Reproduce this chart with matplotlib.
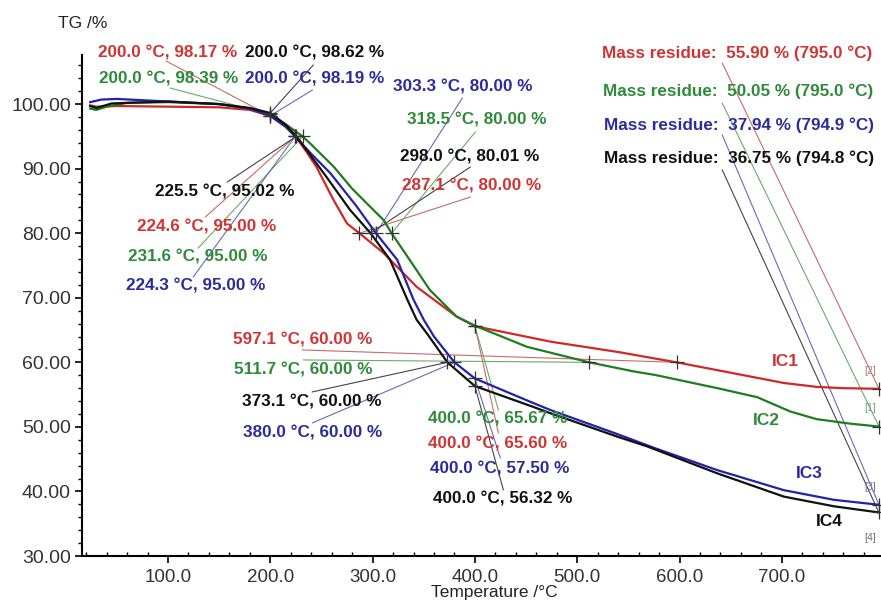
import numpy as np
import matplotlib.pyplot as plt
from matplotlib.ticker import MultipleLocator, FormatStrFormatter

plt.rcParams['font.family'] = ['Liberation Sans', 'DejaVu Sans']

# TG curves: temperature (°C) and mass (%)
t_ic1 = [24, 30, 50, 100, 150, 180, 200, 215, 224.6, 235, 245, 262, 275, 287.1, 311, 343,
         382, 400, 474, 540, 597.1, 653, 702, 734, 760, 795]
m_ic1 = [99.8, 99.6, 99.7, 99.6, 99.5, 99.1, 98.17, 96.5, 95.0, 92.7, 90.3, 85.1, 81.5, 80.0,
         76.9, 71.7, 67.1, 65.6, 63.2, 61.6, 60.0, 58.3, 56.8, 56.2, 56.0, 55.9]

t_ic2 = [24, 30, 40, 60, 100, 150, 180, 200, 215, 231.6, 239, 262, 280, 297, 311, 318.5,
         334, 356, 382, 400, 451, 511.7, 555, 576, 637, 676, 708, 734, 767, 795]
m_ic2 = [99.3, 99.1, 99.6, 100.2, 100.3, 100.0, 99.3, 98.39, 96.9, 95.0, 93.9, 90.3, 86.9,
         84.2, 82.0, 80.0, 76.4, 71.2, 67.1, 65.67, 62.4, 60.0, 58.6, 58.05, 56.0, 54.6,
         52.4, 51.2, 50.5, 50.05]

t_ic3 = [24, 35, 50, 100, 150, 180, 200, 215, 224.3, 240, 258.7, 284.7, 303.3, 324, 340, 350,
         360, 380, 400, 457, 474, 539, 576, 637, 702, 751, 794.9]
m_ic3 = [100.3, 100.7, 100.8, 100.4, 100.0, 99.3, 98.19, 96.5, 95.0, 92.3, 89.3, 84.1, 80.0,
         75.9, 69.7, 66.6, 64.0, 60.0, 57.5, 53.7, 52.6, 48.9, 46.7, 43.3, 40.2, 38.7, 37.94]

t_ic4 = [24, 30, 45, 100, 150, 180, 200, 215, 225.5, 255, 278, 298.0, 317, 334, 343, 353,
         373.1, 400, 457, 474, 539, 568, 637, 702, 751, 794.8]
m_ic4 = [99.7, 99.4, 100.1, 100.4, 100.0, 99.4, 98.62, 96.8, 95.02, 88.7, 83.6, 80.01, 75.9,
         69.7, 66.6, 64.5, 60.0, 56.32, 53.1, 52.1, 48.5, 47.0, 42.8, 39.2, 37.7, 36.75]

# marked points (temperature, mass) and residue at the end
mark_t_ic1 = [200.0, 224.6, 287.1, 400.0, 597.1]
mark_m_ic1 = [98.17, 95.00, 80.00, 65.60, 60.00]
mark_t_ic2 = [200.0, 231.6, 318.5, 400.0, 511.7]
mark_m_ic2 = [98.39, 95.00, 80.00, 65.67, 60.00]
mark_t_ic3 = [200.0, 224.3, 303.3, 380.0, 400.0]
mark_m_ic3 = [98.19, 95.00, 80.00, 60.00, 57.50]
mark_t_ic4 = [200.0, 225.5, 298.0, 373.1, 400.0]
mark_m_ic4 = [98.62, 95.02, 80.01, 60.00, 56.32]

residue_t = [795.0, 795.0, 794.9, 794.8]
residue_m = [55.90, 50.05, 37.94, 36.75]

names = ["IC1", "IC2", "IC3", "IC4"]
brackets = ["[2]", "[1]", "[3]", "[4]"]

# layout of the labels (left x, centre y) and leader line starts
lab_ic1 = [(31.9, 107.94), (70.0, 80.96), (329.0, 87.31), (354.5, 47.37), (163.8, 63.47)]
ld_ic1 = [(98.3, 106.66), (136.5, 82.51), (395.5, 85.6), (422.9, 49.07), (231.3, 61.92)]
lab_ic2 = [(32.8, 103.87), (61.2, 76.32), (333.9, 97.52), (354.5, 51.19), (164.8, 58.82)]
ld_ic2 = [(102.2, 102.48), (129.6, 77.71), (400.4, 95.67), (422.9, 52.63), (232.3, 60.37)]
lab_ic3 = [(175.6, 103.87), (59.2, 71.83), (320.2, 102.63), (173.6, 49.12), (356.4, 43.45)]
ld_ic3 = [(241.1, 102.17), (124.7, 73.22), (387.7, 100.93), (241.1, 50.62), (424.8, 45.2)]
lab_ic4 = [(175.6, 107.94), (87.6, 86.38), (327.1, 91.8), (172.6, 53.92), (359.3, 38.85)]
ld_ic4 = [(242.0, 106.04), (158.0, 87.93), (395.5, 90.25), (241.1, 55.42), (427.8, 40.25)]

res_lab = [(524.5, 107.94), (525.5, 102.06), (526.5, 96.75), (526.5, 91.64)]
res_ld = [(641.8, 106.35), (641.8, 100.15), (641.8, 95.2), (641.8, 89.78)]
name_pos = [(690.7, 60.06), (671.2, 50.98), (714.2, 42.72), (733.7, 35.34)]
br_pos = [(786.5, 58.72), (786.5, 52.94), (786.5, 40.71), (786.5, 32.82)]

curve_col = ['#d02828', '#1e7d1e', '#2222aa', '#111111']
text_col = ['#d03535', '#2e8b3a', '#2c2c9c', '#111111']
line_col = ['#c86a6a', '#6aaa6a', '#6a6ab8', '#444444']
br_col = ['#b08080', '#70a070', '#7070a0', '#707070']

fig = plt.figure(figsize=(8.81, 6.0), dpi=100)
ax = fig.add_axes([0.0931, 0.0733, 0.907, 0.835])

curves = [(t_ic1, m_ic1), (t_ic2, m_ic2), (t_ic3, m_ic3), (t_ic4, m_ic4)]
marks = [(mark_t_ic1, mark_m_ic1), (mark_t_ic2, mark_m_ic2),
         (mark_t_ic3, mark_m_ic3), (mark_t_ic4, mark_m_ic4)]
labs = [lab_ic1, lab_ic2, lab_ic3, lab_ic4]
lds = [ld_ic1, ld_ic2, ld_ic3, ld_ic4]

for i, (t, m) in enumerate(curves):
    ax.plot(t, m, color=curve_col[i], lw=1.6, zorder=3, solid_joinstyle='round')

for i, (mt, mm) in enumerate(marks):
    for k in range(len(mt)):
        txt = "%.1f °C, %.2f %%" % (mt[k], mm[k])
        ax.text(labs[i][k][0], labs[i][k][1], txt, color=text_col[i], fontsize=12.3,
                fontweight='bold', ha='left', va='center')
        ax.plot([lds[i][k][0], mt[k]], [lds[i][k][1], mm[k]], color=line_col[i],
                lw=0.8, zorder=2, clip_on=False)
    ax.plot(mt, mm, '+', color='#333333', ms=10, mew=0.9, zorder=4)

for i in range(4):
    txt = "Mass residue:  %.2f %% (%.1f °C)" % (residue_m[i], residue_t[i])
    ax.text(res_lab[i][0], res_lab[i][1], txt, color=text_col[i], fontsize=12.3,
            fontweight='bold', ha='left', va='center')
    ax.plot([res_ld[i][0], residue_t[i]], [res_ld[i][1], residue_m[i]], color=line_col[i],
            lw=0.8, zorder=2, clip_on=False)
    ax.plot(residue_t[i], residue_m[i], '+', color='#333333', ms=10, mew=0.9, zorder=4,
            clip_on=False)
    ax.text(name_pos[i][0], name_pos[i][1], names[i], color=text_col[i], fontsize=12.5,
            fontweight='bold', ha='left', va='center')
    ax.text(br_pos[i][0], br_pos[i][1], brackets[i], color=br_col[i], fontsize=7.5,
            ha='center', va='center')

ax.set_xlim(16, 797)
ax.set_ylim(30, 107.6)
ax.spines['top'].set_visible(False)
ax.spines['right'].set_visible(False)
ax.spines['left'].set_linewidth(1.5)
ax.spines['bottom'].set_linewidth(1.5)

ax.xaxis.set_major_locator(MultipleLocator(100))
ax.xaxis.set_minor_locator(MultipleLocator(20))
ax.yaxis.set_major_locator(MultipleLocator(10))
ax.yaxis.set_minor_locator(MultipleLocator(2))
ax.xaxis.set_major_formatter(FormatStrFormatter('%.1f'))
ax.yaxis.set_major_formatter(FormatStrFormatter('%.2f'))
ax.tick_params(axis='x', which='major', direction='out', length=5, width=1.2,
               labelsize=13.5, labelcolor='#333333', pad=4)
ax.tick_params(axis='x', which='minor', direction='in', length=3, width=1)
ax.tick_params(axis='y', which='major', direction='out', length=5, width=1.2,
               labelsize=14, labelcolor='#333333', pad=3)
ax.tick_params(axis='y', which='minor', direction='out', length=3, width=1)
xt = ax.get_xticks()
ax.set_xticks([v for v in xt if 50 < v < 750])

fig.text(58 / 881, 1 - 23 / 600, "TG /%", fontsize=12.5, color='#222222',
         ha='left', va='center')
fig.text(494 / 881, 1 - 592 / 600, "Temperature /°C", fontsize=12.5, color='#222222',
         ha='center', va='center')

fig.savefig("out.png", dpi=100)
